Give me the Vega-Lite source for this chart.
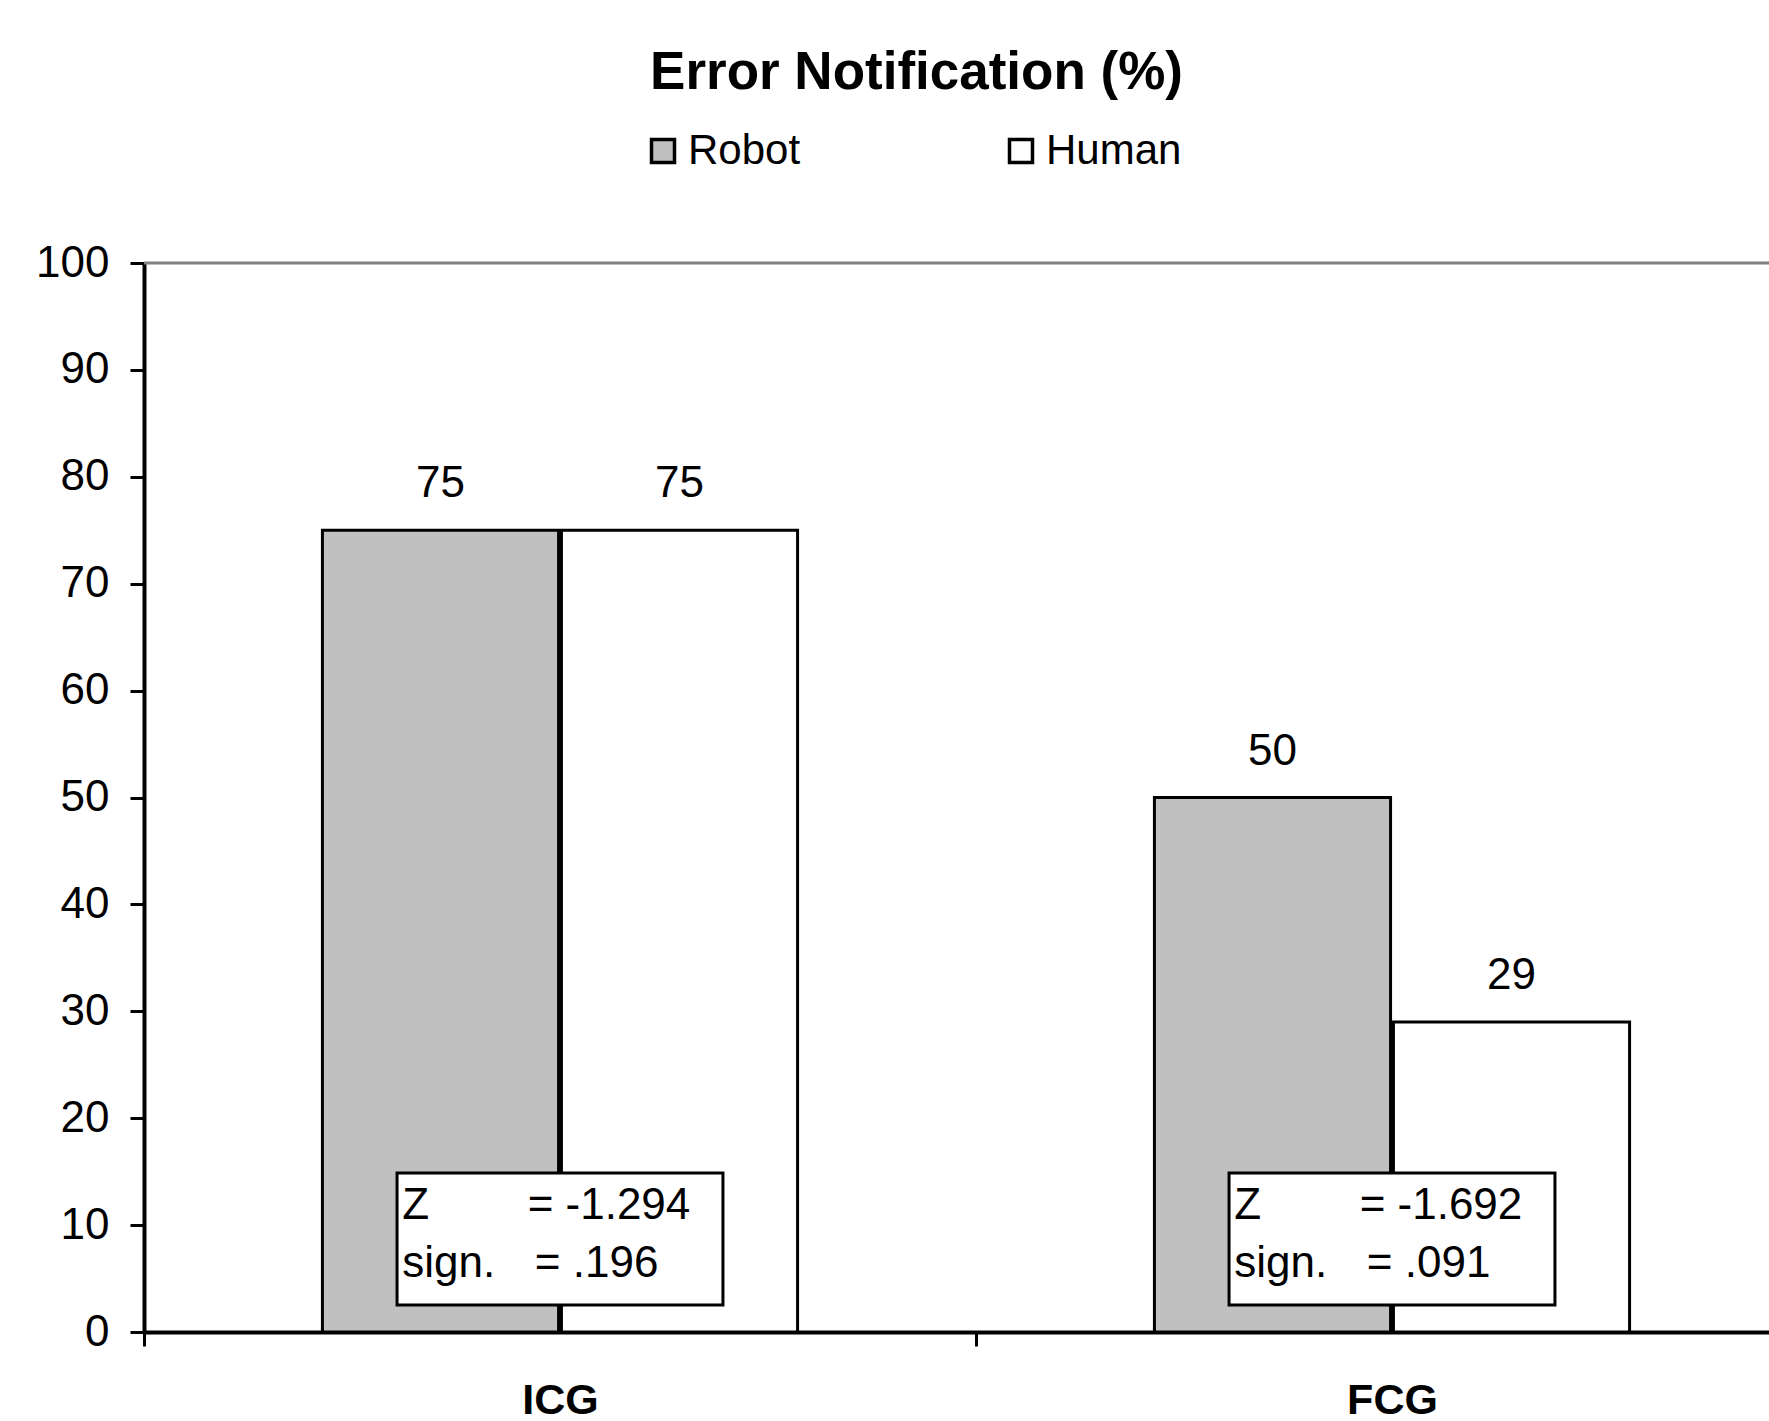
{
  "$schema": "https://vega.github.io/schema/vega-lite/v6.json",
  "width": 1625,
  "height": 1069,
  "autosize": {"type": "none"},
  "padding": {"left": 144, "top": 263, "right": 0, "bottom": 89},
  "background": "white",
  "title": {
    "text": "Error Notification (%)",
    "font": "Liberation Sans",
    "fontSize": 53,
    "fontWeight": "bold",
    "color": "black",
    "anchor": "middle",
    "baseline": "alphabetic",
    "dx": -40,
    "dy": 50,
    "offset": 38
  },
  "datasets": {
    "bars": [
      {"group": "ICG", "series": "Robot", "value": 75},
      {"group": "ICG", "series": "Human", "value": 75},
      {"group": "FCG", "series": "Robot", "value": 50},
      {"group": "FCG", "series": "Human", "value": 29}
    ],
    "stats": [
      {"group": "ICG", "zLabel": "Z", "zText": "= -1.294", "signLabel": "sign.", "signText": "= .196"},
      {"group": "FCG", "zLabel": "Z", "zText": "= -1.692", "signLabel": "sign.", "signText": "= .091"}
    ]
  },
  "config": {
    "view": {"stroke": null},
    "font": "Liberation Sans",
    "axis": {
      "title": null,
      "grid": false,
      "domainColor": "black",
      "domainWidth": 4,
      "tickColor": "black",
      "tickWidth": 3,
      "tickSize": 14,
      "labelColor": "black",
      "labelFont": "Liberation Sans",
      "labelFontSize": 44
    },
    "legend": {
      "orient": "none",
      "legendX": 498,
      "legendY": -133,
      "direction": "horizontal",
      "title": null,
      "padding": 0,
      "symbolType": "square",
      "symbolSize": 529,
      "symbolStrokeColor": "black",
      "symbolStrokeWidth": 3.5,
      "labelFont": "Liberation Sans",
      "labelFontSize": 42,
      "labelColor": "black",
      "labelOffset": 4,
      "columnPadding": 199
    }
  },
  "layer": [
    {
      "description": "frame line along the top of the value range",
      "data": {"values": [{}]},
      "mark": {"type": "rule", "color": "#808080", "strokeWidth": 3},
      "encoding": {"y": {"datum": 100, "type": "quantitative"}}
    },
    {
      "data": {"name": "bars"},
      "mark": {"type": "bar", "stroke": "black", "strokeWidth": 3},
      "encoding": {
        "x": {
          "field": "group",
          "type": "nominal",
          "sort": null,
          "scale": {"domain": ["ICG", "FCG"], "range": [0, 1664], "paddingInner": 0, "paddingOuter": 0},
          "axis": {"labelAngle": 0, "labelFontWeight": "bold", "labelFontSize": 43, "labelPadding": 33, "tickBand": "extent"}
        },
        "xOffset": {
          "field": "series",
          "type": "nominal",
          "sort": null,
          "scale": {"domain": ["Robot", "Human"], "paddingInner": 0.012, "paddingOuter": 0.7465}
        },
        "y": {
          "field": "value",
          "type": "quantitative",
          "scale": {"domain": [0, 100], "nice": false},
          "axis": {"values": [0, 10, 20, 30, 40, 50, 60, 70, 80, 90, 100], "labelPadding": 21}
        },
        "fill": {
          "field": "series",
          "type": "nominal",
          "sort": null,
          "scale": {"domain": ["Robot", "Human"], "range": ["#C0C0C0", "#FFFFFF"]}
        }
      }
    },
    {
      "data": {"name": "bars"},
      "mark": {"type": "text", "font": "Liberation Sans", "fontSize": 44, "color": "black", "baseline": "alphabetic", "dy": -33},
      "encoding": {
        "x": {"field": "group", "type": "nominal"},
        "xOffset": {"field": "series", "type": "nominal"},
        "y": {"field": "value", "type": "quantitative"},
        "text": {"field": "value", "type": "quantitative", "format": "d"}
      }
    },
    {
      "data": {"name": "stats"},
      "mark": {"type": "bar", "fill": "white", "stroke": "black", "strokeWidth": 3, "width": {"band": 0.3917}},
      "encoding": {
        "x": {"field": "group", "type": "nominal"},
        "y": {"datum": 14.87, "type": "quantitative"},
        "y2": {"datum": 2.53}
      }
    },
    {
      "data": {"name": "stats"},
      "mark": {"type": "text", "font": "Liberation Sans", "fontSize": 44, "color": "black", "align": "left", "baseline": "alphabetic"},
      "encoding": {
        "x": {"field": "group", "type": "nominal", "bandPosition": 0.3105},
        "y": {"datum": 10.57, "type": "quantitative"},
        "text": {"field": "zLabel"}
      }
    },
    {
      "data": {"name": "stats"},
      "mark": {"type": "text", "font": "Liberation Sans", "fontSize": 44, "color": "black", "align": "left", "baseline": "alphabetic"},
      "encoding": {
        "x": {"field": "group", "type": "nominal", "bandPosition": 0.4611},
        "y": {"datum": 10.57, "type": "quantitative"},
        "text": {"field": "zText"}
      }
    },
    {
      "data": {"name": "stats"},
      "mark": {"type": "text", "font": "Liberation Sans", "fontSize": 44, "color": "black", "align": "left", "baseline": "alphabetic"},
      "encoding": {
        "x": {"field": "group", "type": "nominal", "bandPosition": 0.3105},
        "y": {"datum": 5.14, "type": "quantitative"},
        "text": {"field": "signLabel"}
      }
    },
    {
      "data": {"name": "stats"},
      "mark": {"type": "text", "font": "Liberation Sans", "fontSize": 44, "color": "black", "align": "left", "baseline": "alphabetic"},
      "encoding": {
        "x": {"field": "group", "type": "nominal", "bandPosition": 0.4697},
        "y": {"datum": 5.14, "type": "quantitative"},
        "text": {"field": "signText"}
      }
    }
  ]
}
